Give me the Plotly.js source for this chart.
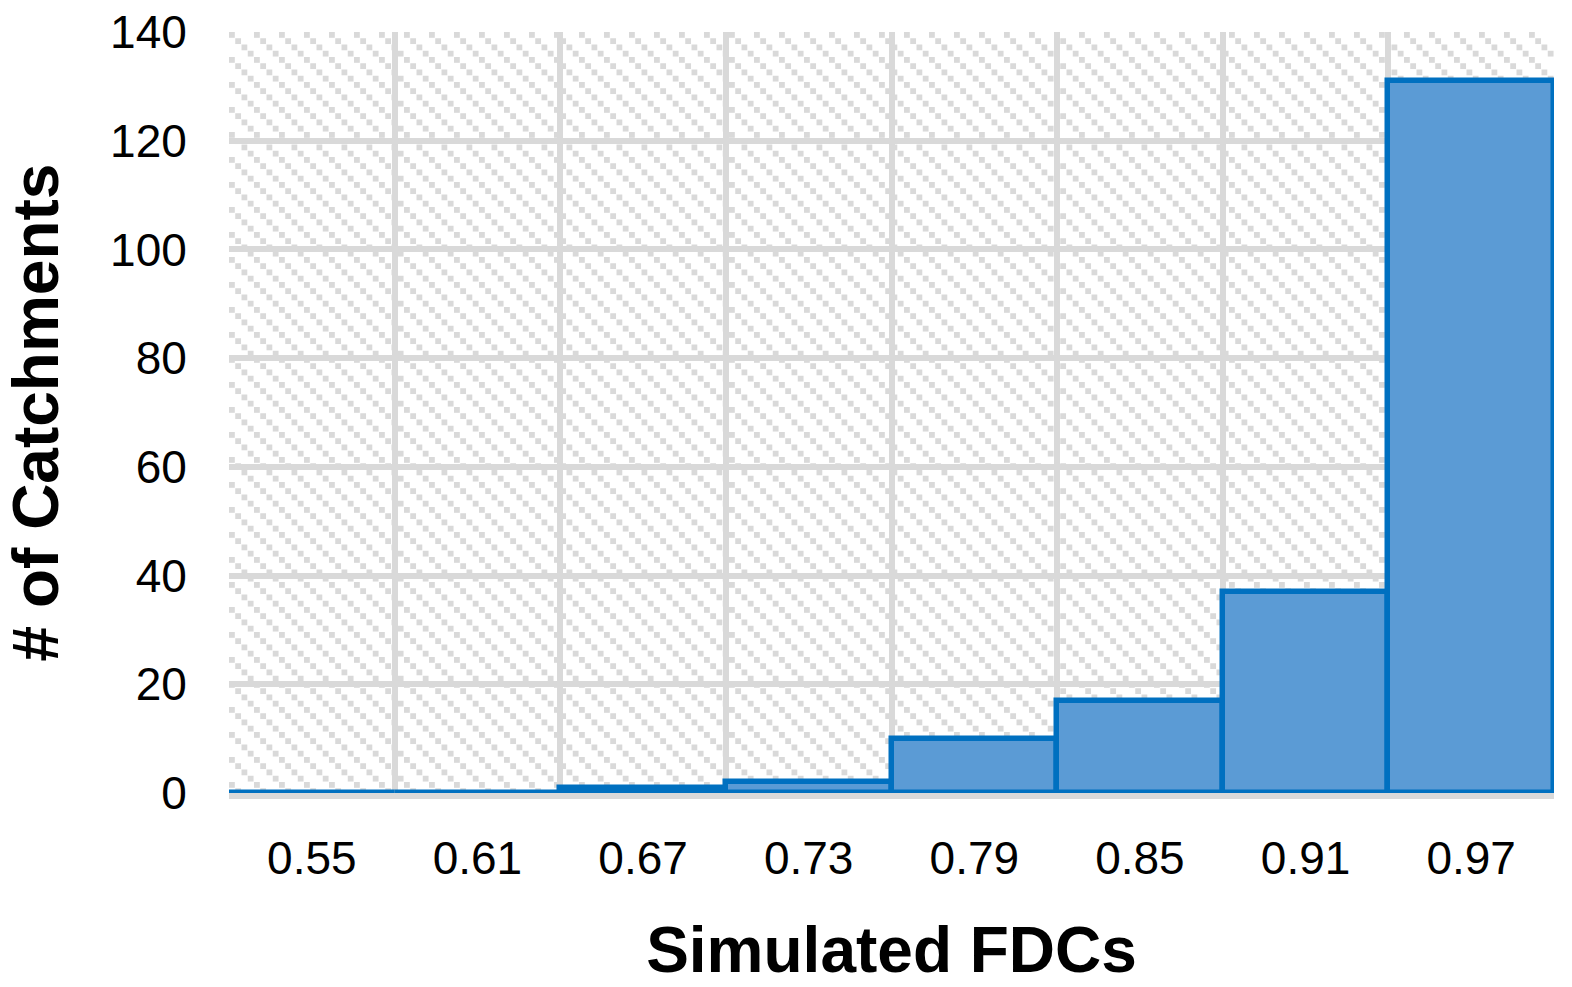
<!DOCTYPE html>
<html>
<head>
<meta charset="utf-8">
<script src="https://cdn.plot.ly/plotly-3.0.1.min.js"></script>
<style>html,body{margin:0;padding:0;background:#fff;}#chart{width:1572px;height:987px;}</style>
</head>
<body>
<div id="chart"></div>
<script>
const categories = ["0.55", "0.61", "0.67", "0.73", "0.79", "0.85", "0.91", "0.97"];
const counts = [0, 0, 1, 2, 10, 17, 37, 131];
const yTicks = [0, 20, 40, 60, 80, 100, 120, 140];
const xTitle = "Simulated FDCs";
const yTitle = "# of Catchments";

const L = 229, R = 18, T = 32, B = 194;
const W = 1572, H = 987;
const pw = W - L - R, ph = H - T - B;

// hatch pattern background (style only)
const sq = 5.8, step = 6.25, period = 25;
let rects = '';
for (let k = 0; k < 4; k++) {
  rects += `<rect x="${(k*step).toFixed(2)}" y="${(k*step).toFixed(2)}" width="${sq}" height="${sq}" fill="#d9d9d9"/>`;
}
const svg = `<svg xmlns="http://www.w3.org/2000/svg" width="${pw}" height="${ph}" viewBox="0 0 ${pw} ${ph}" preserveAspectRatio="none"><defs><pattern id="p" patternUnits="userSpaceOnUse" width="${period}" height="${period}">${rects}</pattern></defs><rect width="100%" height="100%" fill="#ffffff"/><rect width="100%" height="100%" fill="url(#p)"/></svg>`;
const bgSrc = 'data:image/svg+xml;base64,' + btoa(svg);

const trace = {
  type: 'bar',
  x: categories,
  y: counts,
  marker: { color: '#5B9BD5', line: { color: '#0070C0', width: 5.5 } },
  cliponaxis: false,
  hoverinfo: 'x+y'
};

const layout = {
  width: W, height: H,
  margin: { l: L, r: R, t: T, b: B, pad: 0 },
  paper_bgcolor: '#ffffff',
  plot_bgcolor: 'rgba(0,0,0,0)',
  bargap: 0,
  showlegend: false,
  font: { family: 'Liberation Sans, Arial, sans-serif', color: '#000' },
  images: [{
    source: bgSrc, xref: 'paper', yref: 'paper', x: 0, y: 1,
    sizex: 1, sizey: 1, sizing: 'stretch', xanchor: 'left', yanchor: 'top', layer: 'below'
  }],
  xaxis: {
    type: 'category',
    tickson: 'boundaries',
    layer: 'below traces',
    showgrid: true, gridcolor: '#d9d9d9', gridwidth: 5.5,
    showline: true, linecolor: '#d9d9d9', linewidth: 6,
    ticks: '',
    ticklabelstandoff: 20,
    tickfont: { size: 46, family: 'Liberation Sans, Arial, sans-serif' },
    title: { text: xTitle, font: { size: 64, family: 'Liberation Sans, Arial, sans-serif', weight: 'bold' }, standoff: 46 },
    zeroline: false, fixedrange: true
  },
  yaxis: {
    range: [0, 140],
    tickvals: yTicks,
    ticktext: yTicks.map(String),
    showgrid: true, gridcolor: '#d9d9d9', gridwidth: 5.5,
    showline: false, zeroline: false,
    ticks: 'outside', ticklen: 32, tickcolor: 'rgba(0,0,0,0)',
    tickfont: { size: 46, family: 'Liberation Sans, Arial, sans-serif' },
    title: { text: yTitle, font: { size: 64, family: 'Liberation Sans, Arial, sans-serif', weight: 'bold' }, standoff: 30 },
    fixedrange: true
  }
};

Plotly.newPlot('chart', [trace], layout, { displayModeBar: false });
</script>
</body>
</html>
